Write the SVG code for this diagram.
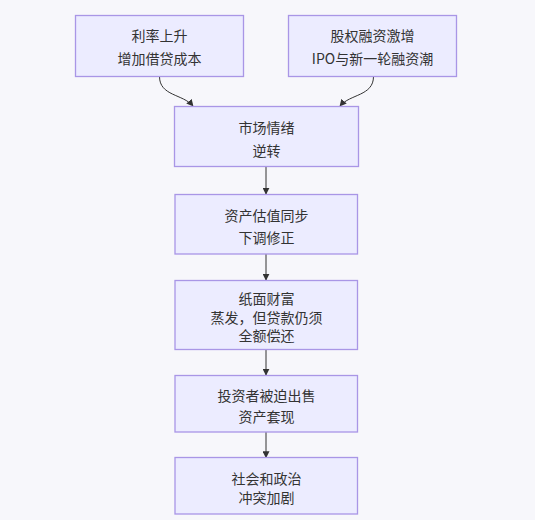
<svg xmlns="http://www.w3.org/2000/svg" width="535" height="520" viewBox="0 0 535 520">
<style>
.n rect{fill:#ececff;stroke:#a996e6;stroke-width:1.3}
.n text{font-family:"Noto Sans CJK SC","Liberation Sans",sans-serif;font-size:14px;fill:#333;text-anchor:middle;dominant-baseline:central}
.e path{fill:none;stroke:#333;stroke-width:1}
</style>
<defs>
<marker id="arr" viewBox="0 0 10 10" refX="9" refY="5" markerWidth="7" markerHeight="7" orient="auto-start-reverse" markerUnits="userSpaceOnUse">
<path d="M0,0 L10,5 L0,10 z" fill="#333"/>
</marker>
</defs>
<rect width="535" height="520" fill="#f7f7fb"/>
<g class="e" id="edges">
<path d="M159.5,76.5 C159.5,96 183,94 193,106" marker-end="url(#arr)"/>
<path d="M373.5,76.5 C373.5,96 350,94 340,106" marker-end="url(#arr)"/>
<path d="M266,166.5 L266,194" marker-end="url(#arr)"/>
<path d="M266,254 L266,280" marker-end="url(#arr)"/>
<path d="M266,349.5 L266,375" marker-end="url(#arr)"/>
<path d="M266,432 L266,457.5" marker-end="url(#arr)"/>
</g>
<g class="n" id="n1"><rect x="75.5" y="15.5" width="168" height="61"/><text x="159.5" y="35">利率上升</text><text x="159.5" y="58">增加借贷成本</text></g>
<g class="n" id="n2"><rect x="288.5" y="15.5" width="168" height="61"/><text x="372.5" y="35">股权融资激增</text><text x="372.5" y="58">IPO与新一轮融资潮</text></g>
<g class="n" id="n3"><rect x="174.5" y="106.5" width="184" height="60"/><text x="266.5" y="127">市场情绪</text><text x="266.5" y="150">逆转</text></g>
<g class="n" id="n4"><rect x="175" y="194.5" width="182.5" height="59.5"/><text x="266.5" y="214.5">资产估值同步</text><text x="266.5" y="237">下调修正</text></g>
<g class="n" id="n5"><rect x="175" y="280.5" width="182.5" height="69"/><text x="266.5" y="298">纸面财富</text><text x="266.5" y="316.5">蒸发，但贷款仍须</text><text x="266.5" y="335">全额偿还</text></g>
<g class="n" id="n6"><rect x="175" y="375.5" width="182.5" height="56.5"/><text x="266.5" y="394.5">投资者被迫出售</text><text x="266.5" y="415.5">资产套现</text></g>
<g class="n" id="n7"><rect x="175" y="457.5" width="182.5" height="56.5"/><text x="266.5" y="477.5">社会和政治</text><text x="266.5" y="496.5">冲突加剧</text></g>
</svg>
